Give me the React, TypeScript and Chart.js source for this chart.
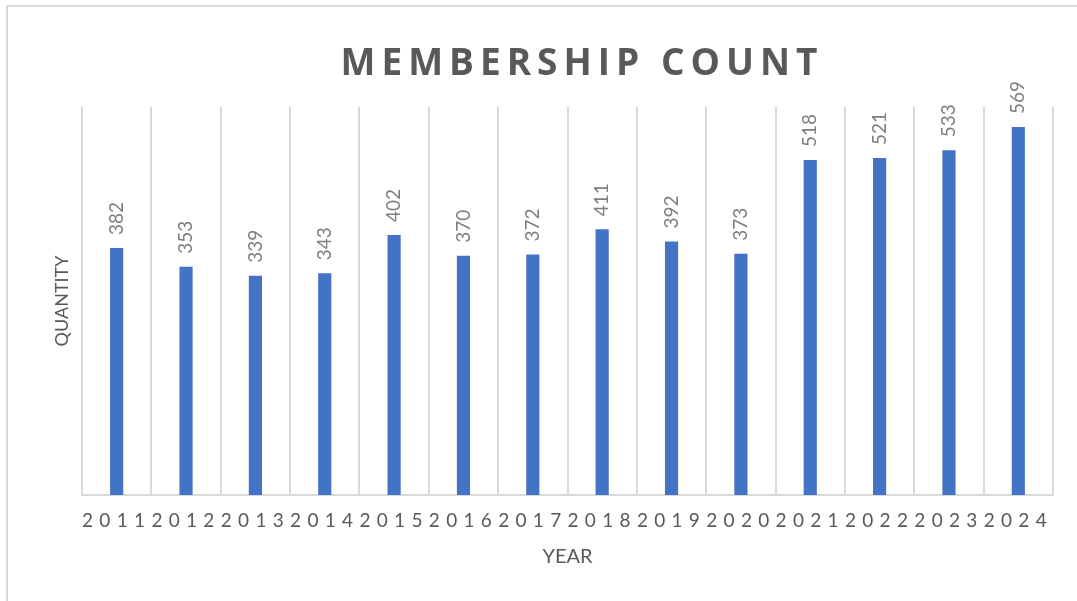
import React, { useEffect, useRef } from "react";
import { Chart, registerables } from "chart.js";

Chart.register(...registerables);

const years = ["2011", "2012", "2013", "2014", "2015", "2016", "2017", "2018", "2019", "2020", "2021", "2022", "2023", "2024"];
const members = [382, 353, 339, 343, 402, 370, 372, 411, 392, 373, 518, 521, 533, 569];
const yMin = 0;
const yMax = 600;

const TITLE_CENTER = 582;

export default function App() {
  const ref = useRef<HTMLCanvasElement>(null);

  useEffect(() => {
    document.body.style.margin = "0";
    const canvas = ref.current;
    if (!canvas) return;

    const framePlugin = {
      id: "frame",
      beforeDraw(chart: any) {
        const c = chart.ctx;
        c.save();
        c.fillStyle = "#d9d9d9";
        c.fillRect(6, 5, 2, chart.height);
        c.fillRect(6, 5, chart.width, 2);
        c.restore();
      },
    };

    const spacingPlugin = {
      id: "spacing",
      afterLayout(chart: any) {
        const t: any = chart.titleBlock;
        if (t) {
          const c = (t.left + t.right) / 2;
          const d = TITLE_CENTER - c;
          t.left += d;
          t.right += d;
          if (!t._ls) {
            const orig = t.draw;
            t.draw = function (...a: any[]) {
              const ctx = this.ctx;
              ctx.save();
              ctx.letterSpacing = "6px";
              orig.apply(this, a);
              ctx.restore();
            };
            t._ls = true;
          }
        }
        const x: any = chart.scales.x;
        if (x && !x._ls) {
          const o = x.drawLabels;
          x.drawLabels = function (...a: any[]) {
            const ctx = this.ctx;
            ctx.save();
            ctx.letterSpacing = "6.3px";
            o.apply(this, a);
            ctx.restore();
          };
          x._ls = true;
        }
      },
    };

    const valueLabels = {
      id: "valueLabels",
      afterDatasetsDraw(chart: any) {
        const ctx = chart.ctx;
        const meta = chart.getDatasetMeta(0);
        const data = chart.data.datasets[0].data;
        ctx.save();
        ctx.font = "19px Lato";
        ctx.fillStyle = "#7f7f7f";
        ctx.textAlign = "left";
        ctx.textBaseline = "middle";
        meta.data.forEach((bar: any, i: number) => {
          ctx.save();
          ctx.translate(bar.x, bar.y - 13);
          ctx.rotate(-Math.PI / 2);
          ctx.fillText(String(data[i]), 0, 0);
          ctx.restore();
        });
        ctx.restore();
      },
    };

    const chart = new Chart(canvas, {
      type: "bar",
      data: {
        labels: years,
        datasets: [
          {
            data: members,
            backgroundColor: "#4472C4",
            borderWidth: 0,
            barPercentage: 0.19,
            categoryPercentage: 1.0,
          },
        ],
      },
      options: {
        responsive: false,
        animation: false,
        layout: { padding: { left: 0, right: 24, top: 0, bottom: 0 } },
        plugins: {
          legend: { display: false },
          tooltip: { enabled: false },
          title: {
            display: true,
            text: "MEMBERSHIP COUNT",
            color: "#595959",
            font: { family: "'Open Sans'", size: 37, weight: "bold" },
            padding: { top: 42, bottom: 20.6 },
          },
        },
        scales: {
          x: {
            grid: { offset: true, color: "#d9d9d9", lineWidth: 2, drawTicks: false },
            border: { color: "#d9d9d9", width: 2 },
            ticks: {
              color: "#595959",
              font: { family: "Lato", size: 19 },
              padding: 14,
              maxRotation: 0,
              autoSkip: false,
            },
            title: {
              display: true,
              text: "YEAR",
              color: "#595959",
              font: { family: "Lato", size: 20 },
              padding: { top: 0, bottom: 32 },
            },
            afterFit(s: any) {
              s.height = 106;
            },
          },
          y: {
            min: yMin,
            max: yMax,
            ticks: { display: false },
            grid: { display: false },
            border: { display: false },
            title: {
              display: true,
              text: "QUANTITY",
              color: "#595959",
              font: { family: "Lato", size: 18 },
              padding: { top: 51, bottom: 0 },
            },
            afterFit(s: any) {
              s.width = 82;
            },
          },
        },
      } as any,
      plugins: [framePlugin, spacingPlugin, valueLabels],
    });

    return () => chart.destroy();
  }, []);

  return (
    <div style={{ width: 1077, height: 601, overflow: "hidden" }}>
      <canvas ref={ref} width={1077} height={601} style={{ display: "block" }} />
    </div>
  );
}
